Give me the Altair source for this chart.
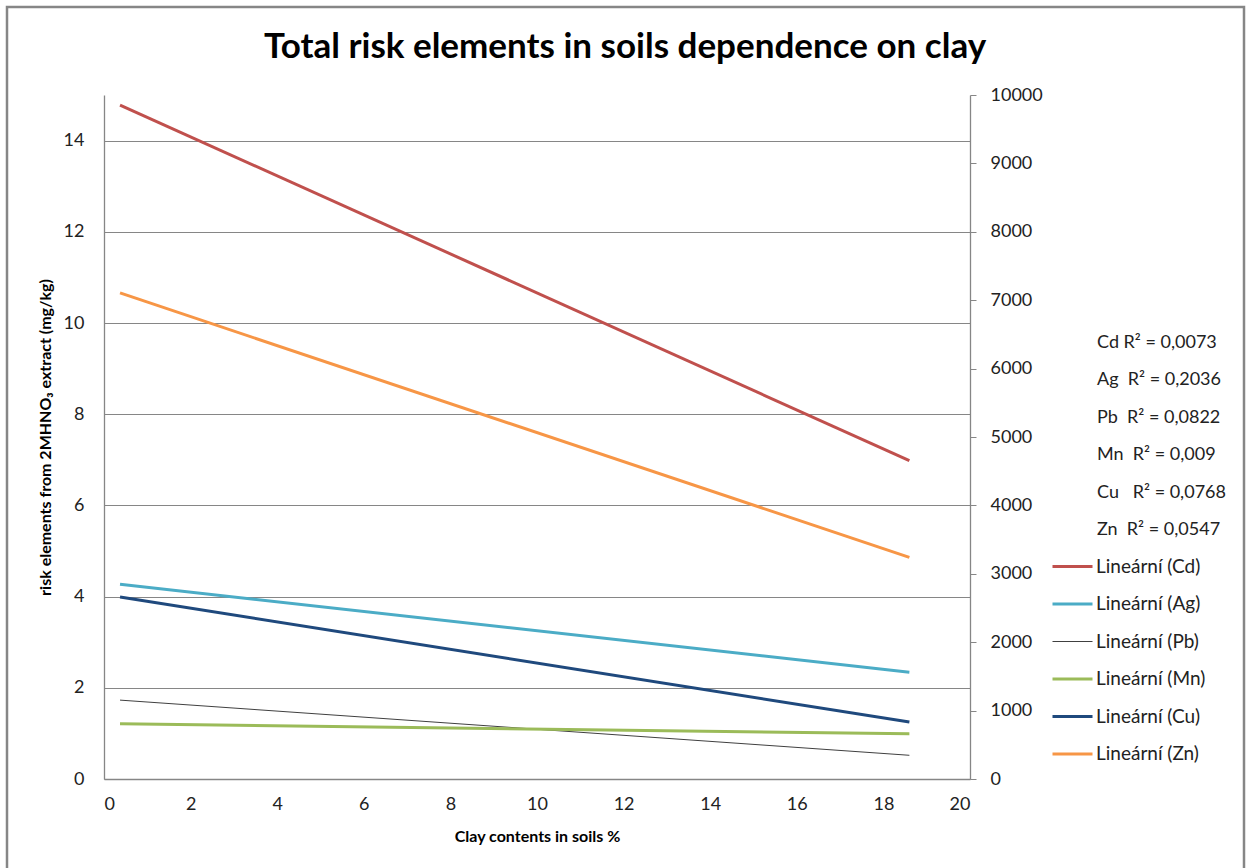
import altair as alt
import pandas as pd

# ---- data ----
elements = ["Cd", "Ag", "Pb", "Mn", "Cu", "Zn"]
series_labels = ["Lineární (Cd)", "Lineární (Ag)", "Lineární (Pb)",
                 "Lineární (Mn)", "Lineární (Cu)", "Lineární (Zn)"]
x_range = [0.37, 18.6]
y_start = [14.78, 4.27, 1.73, 1.21, 3.99, 10.66]
y_end = [6.98, 2.34, 0.52, 0.99, 1.25, 4.86]
colors = ["#C0504D", "#4BACC6", "#404040", "#9BBB59", "#1F497D", "#F79646"]
widths = [3, 3, 1, 3, 3, 3]
NB = "\u00a0"
r2_labels = ["Cd R² = 0,0073", f"Ag {NB}R² = 0,2036", f"Pb {NB}R² = 0,0822",
             f"Mn {NB}R² = 0,009", f"Cu {NB}{NB}R² = 0,0768", f"Zn {NB}R² = 0,0547"]
left_ticks = [0, 2, 4, 6, 8, 10, 12, 14]
right_ticks = [0, 1000, 2000, 3000, 4000, 5000, 6000, 7000, 8000, 9000, 10000]
x_ticks = [0, 2, 4, 6, 8, 10, 12, 14, 16, 18, 20]

rows = []
for lab, s, e, w in zip(series_labels, y_start, y_end, widths):
    rows.append({"series": lab, "clay": x_range[0], "value": s, "w": w})
    rows.append({"series": lab, "clay": x_range[1], "value": e, "w": w})
df = pd.DataFrame(rows)

FONT = "Lato"
GRAY = "#868686"
W, H = 866, 684

lines = alt.Chart(df).mark_line().encode(
    x=alt.X("clay:Q",
            scale=alt.Scale(domain=[0, 20], nice=False, zero=False),
            axis=alt.Axis(values=x_ticks, title="Clay contents in soils %",
                          grid=False, ticks=False, labelPadding=16,
                          titlePadding=15)),
    y=alt.Y("value:Q",
            scale=alt.Scale(domain=[0, 15], nice=False),
            axis=alt.Axis(values=left_ticks, orient="left", grid=True,
                          ticks=False, labelPadding=20, titlePadding=10,
                          titleY=H / 2, titleAnchor="middle",
                          title="risk elements from 2MHNO₃ extract (mg/kg)")),
    color=alt.Color("series:N",
                    scale=alt.Scale(domain=series_labels, range=colors),
                    legend=alt.Legend(title=None, orient="none",
                                      legendX=959, legendY=462,
                                      symbolType="stroke", symbolSize=1600,
                                      symbolStrokeWidth={"expr": "datum.value === 'Lineární (Pb)' ? 1 : 3"},
                                      rowPadding=17.5,
                                      labelOffset=14,
                                      labelFont=FONT, labelFontSize=19,
                                      labelColor="#222222", labelLimit=300)),
    strokeWidth=alt.StrokeWidth("w:Q", scale=None, legend=None),
    detail="series:N",
)

right_df = pd.DataFrame({"v": [0, 10000]})
right_axis = alt.Chart(right_df).mark_point(opacity=0).encode(
    y=alt.Y("v:Q",
            scale=alt.Scale(domain=[0, 10000], nice=False),
            axis=alt.Axis(values=right_ticks, orient="right", grid=False,
                          format="d", ticks=True, tickSize=6, labelPadding=14,
                          title=None)),
)

r2_text = alt.Chart(alt.Data(values=[{}])).mark_text(
    align="left", baseline="middle", font=FONT, fontSize=18,
    color="#222222", lineHeight=37.4,
).encode(
    x=alt.value(993),
    y=alt.value(248),
    text=alt.value(r2_labels),
)

border = alt.Chart(alt.Data(values=[{}])).mark_rect(
    fillOpacity=0, stroke=GRAY, strokeWidth=2.5,
).encode(
    x=alt.value(-97), x2=alt.value(1140),
    y=alt.value(-88), y2=alt.value(800),
)

chart = alt.layer(lines, right_axis, r2_text, border).resolve_scale(
    y="independent", color="independent"
).properties(
    width=W, height=H,
    title=alt.TitleParams("Total risk elements in soils dependence on clay",
                          font=FONT, fontSize=35, fontWeight="bold",
                          color="#000000", anchor="middle", frame="group",
                          dx=88, offset=-59),
    padding={"left": 104, "top": 95, "right": 281, "bottom": 89},
    autosize=alt.AutoSizeParams(type="none"),
).configure_view(stroke=None).configure_axis(
    domainColor=GRAY, gridColor=GRAY, tickColor=GRAY,
    labelFont=FONT, labelFontSize=18, labelColor="#222222",
    titleFont=FONT, titleFontSize=16, titleFontWeight="bold",
    titleColor="#000000", domainWidth=1.3, gridWidth=1,
)

chart.save("out.html", embed_options={"renderer": "svg", "actions": False})
